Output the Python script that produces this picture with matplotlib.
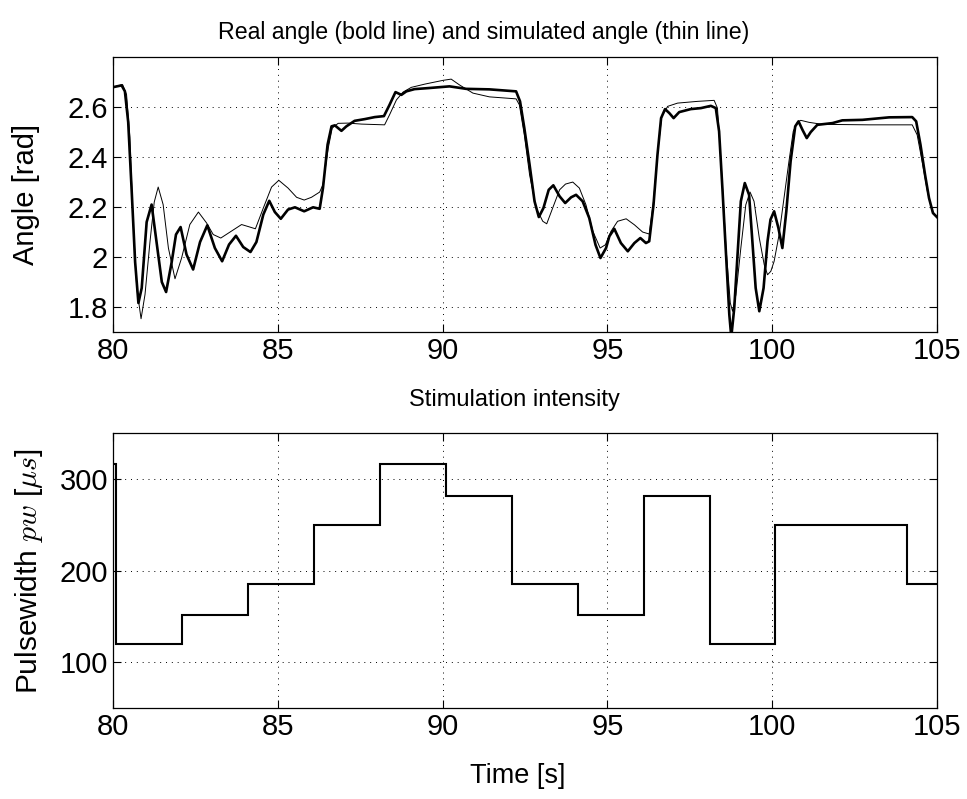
import matplotlib
matplotlib.use("Agg")
import matplotlib.pyplot as plt

plt.rcParams['font.family'] = ['Liberation Sans', 'DejaVu Sans']
plt.rcParams['mathtext.fontset'] = 'cm'

# measured angle (bold line)
t_real = [80.01, 80.26, 80.36, 80.46, 80.56, 80.67, 80.77, 80.87, 81.02, 81.17,
          81.32, 81.48, 81.61, 81.78, 81.91, 82.05, 82.23, 82.43, 82.64, 82.86,
          83.09, 83.31, 83.52, 83.73, 83.95, 84.17, 84.35, 84.56, 84.74, 84.91,
          85.09, 85.31, 85.52, 85.80, 86.07, 86.27, 86.37, 86.51, 86.63, 86.73,
          86.93, 87.08, 87.33, 87.64, 87.94, 88.22, 88.39, 88.57, 88.75, 88.90,
          89.15, 89.56, 90.01, 90.21, 90.72, 91.42, 92.23, 92.35, 92.48, 92.64,
          92.79, 92.92, 93.06, 93.22, 93.36, 93.55, 93.72, 93.90, 94.05, 94.25,
          94.45, 94.64, 94.79, 94.96, 95.06, 95.21, 95.41, 95.62, 95.82, 96.00,
          96.17, 96.27, 96.40, 96.52, 96.63, 96.75, 96.88, 97.01, 97.18, 97.53,
          97.84, 98.14, 98.29, 98.39, 98.49, 98.60, 98.70, 98.76, 98.85, 98.95,
          99.05, 99.17, 99.30, 99.40, 99.50, 99.61, 99.74, 99.86, 99.95, 100.06,
          100.19, 100.31, 100.43, 100.56, 100.70, 100.80, 100.92, 101.05, 101.17, 101.37,
          101.83, 102.13, 102.74, 103.55, 104.25, 104.37, 104.50, 104.64, 104.76, 104.88,
          105.0]
a_real = [2.680, 2.687, 2.663, 2.540, 2.280, 1.980, 1.816, 1.876, 2.140, 2.210,
          2.060, 1.900, 1.860, 1.980, 2.090, 2.120, 2.010, 1.950, 2.060, 2.127,
          2.036, 1.983, 2.050, 2.085, 2.040, 2.020, 2.060, 2.170, 2.225, 2.180,
          2.153, 2.190, 2.199, 2.183, 2.199, 2.193, 2.276, 2.450, 2.523, 2.527,
          2.505, 2.523, 2.545, 2.552, 2.560, 2.564, 2.609, 2.660, 2.649, 2.663,
          2.672, 2.676, 2.681, 2.683, 2.673, 2.671, 2.663, 2.623, 2.516, 2.369,
          2.223, 2.160, 2.196, 2.269, 2.287, 2.243, 2.216, 2.239, 2.249, 2.223,
          2.156, 2.049, 1.996, 2.036, 2.083, 2.113, 2.056, 2.023, 2.056, 2.076,
          2.056, 2.063, 2.209, 2.409, 2.556, 2.592, 2.576, 2.556, 2.580, 2.592,
          2.596, 2.605, 2.596, 2.503, 2.276, 2.009, 1.770, 1.680, 1.796, 2.009,
          2.223, 2.296, 2.249, 2.063, 1.876, 1.783, 1.876, 2.063, 2.150, 2.183,
          2.116, 2.036, 2.183, 2.383, 2.523, 2.543, 2.509, 2.476, 2.500, 2.529,
          2.536, 2.547, 2.549, 2.559, 2.560, 2.543, 2.450, 2.329, 2.236, 2.176,
          2.160]

# simulated angle (thin line)
t_sim = [80.01, 80.29, 80.41, 80.51, 80.61, 80.72, 80.85, 80.97, 81.12, 81.25,
         81.37, 81.52, 81.68, 81.88, 82.08, 82.33, 82.59, 82.84, 83.04, 83.27,
         83.55, 83.90, 84.15, 84.32, 84.56, 84.81, 85.03, 85.31, 85.57, 85.80,
         86.02, 86.27, 86.37, 86.53, 86.65, 86.83, 87.13, 87.54, 88.24, 88.39,
         88.60, 88.80, 89.05, 89.46, 90.01, 90.26, 90.51, 90.92, 91.42, 92.23,
         92.33, 92.48, 92.64, 92.84, 93.04, 93.16, 93.34, 93.55, 93.73, 93.95,
         94.15, 94.35, 94.56, 94.78, 94.94, 95.11, 95.31, 95.57, 95.82, 96.07,
         96.27, 96.40, 96.52, 96.65, 96.83, 97.13, 97.74, 98.24, 98.34, 98.46,
         98.60, 98.73, 98.80, 98.90, 99.05, 99.20, 99.33, 99.45, 99.61, 99.76,
         99.86, 99.96, 100.06, 100.21, 100.36, 100.51, 100.64, 100.77, 100.87, 101.12,
         101.52, 102.94, 104.25, 104.40, 104.55, 104.71, 104.86, 105.0]
a_sim = [2.680, 2.690, 2.650, 2.480, 2.140, 1.876, 1.753, 1.850, 2.060, 2.220,
         2.280, 2.210, 2.036, 1.913, 1.996, 2.130, 2.180, 2.136, 2.090, 2.076,
         2.100, 2.130, 2.120, 2.113, 2.196, 2.280, 2.307, 2.276, 2.239, 2.228,
         2.239, 2.260, 2.290, 2.436, 2.516, 2.535, 2.536, 2.532, 2.529, 2.569,
         2.629, 2.660, 2.679, 2.692, 2.707, 2.712, 2.689, 2.656, 2.641, 2.633,
         2.609, 2.489, 2.329, 2.196, 2.143, 2.133, 2.196, 2.269, 2.292, 2.300,
         2.276, 2.209, 2.103, 2.036, 2.049, 2.103, 2.143, 2.153, 2.129, 2.100,
         2.092, 2.223, 2.409, 2.563, 2.603, 2.616, 2.623, 2.627, 2.596, 2.356,
         2.036, 1.816, 1.783, 1.849, 2.036, 2.209, 2.260, 2.223, 2.076, 1.969,
         1.929, 1.943, 1.983, 2.089, 2.236, 2.383, 2.503, 2.540, 2.547, 2.539,
         2.531, 2.529, 2.529, 2.489, 2.383, 2.263, 2.183, 2.160]

# stimulation pulsewidth
pw_edges = [80, 80.1, 82.1, 84.1, 86.1, 88.1, 90.1, 92.1, 94.1, 96.1, 98.1, 100.1, 104.1, 105]
pw_values = [316, 120, 152, 185, 250, 316, 282, 185, 152, 282, 120, 250, 185]

x_ticks = [80, 85, 90, 95, 100, 105]
angle_ticks = [1.8, 2.0, 2.2, 2.4, 2.6]
angle_labels = ["1.8", "2", "2.2", "2.4", "2.6"]
pw_ticks = [100, 200, 300]

fig = plt.figure(figsize=(9.67, 7.99), dpi=100)
ax1 = fig.add_axes([0.1169, 0.5845, 0.852, 0.344])
ax2 = fig.add_axes([0.1169, 0.1139, 0.852, 0.3438])


def style(ax):
    ax.tick_params(direction='in', length=6, width=0.8, top=True, right=True, labelsize=21)
    ax.grid(True, color='black', linestyle=(0, (1, 5)), linewidth=0.7)
    for s in ax.spines.values():
        s.set_linewidth(0.9)


ax1.plot(t_sim, a_sim, color='black', linewidth=0.7, solid_joinstyle='round')
ax1.plot(t_real, a_real, color='black', linewidth=1.9, solid_joinstyle='round')
ax1.set_xlim(80, 105)
ax1.set_ylim(1.7, 2.8)
ax1.set_xticks(x_ticks)
ax1.set_yticks(angle_ticks)
ax1.set_yticklabels(angle_labels)
ax1.set_ylabel("Angle [rad]", fontsize=21)
ax1.yaxis.set_label_coords(-0.089, 0.5)
ax1.set_title("Real angle (bold line) and simulated angle (thin line)", fontsize=16.7,
              pad=13, x=0.45)
style(ax1)

ax2.stairs(pw_values, pw_edges, baseline=None, color='black', linewidth=1.5)
ax2.set_xlim(80, 105)
ax2.set_ylim(50, 350)
ax2.set_xticks(x_ticks)
ax2.set_yticks(pw_ticks)
ax2.set_ylabel("Pulsewidth $pw$ [$\\mu s$]", fontsize=21.5)
ax2.yaxis.set_label_coords(-0.083, 0.5)
ax2.set_xlabel("Time [s]", fontsize=19.5, labelpad=16, x=0.4915)
ax2.set_title("Stimulation intensity", fontsize=17, pad=20, x=0.487)
style(ax2)

fig.savefig("out.png", dpi=100)
